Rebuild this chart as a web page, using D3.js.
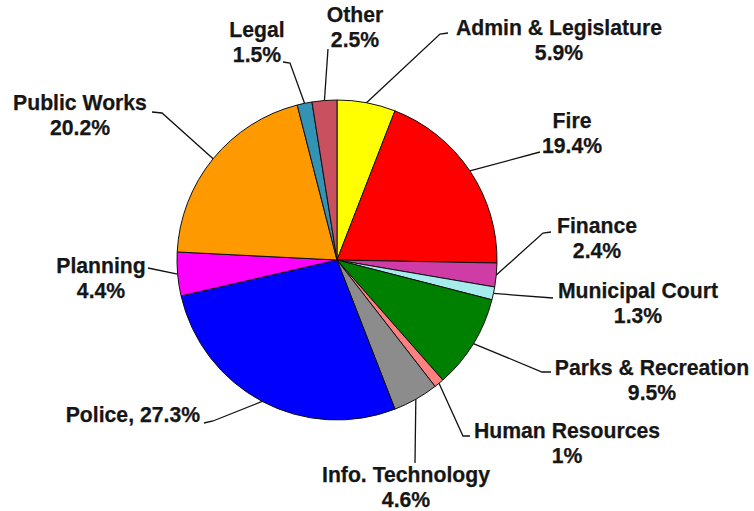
<!DOCTYPE html>
<html>
<head>
<meta charset="utf-8">
<script src="https://cdn.jsdelivr.net/npm/d3@7"></script>
<style>
  html, body { margin: 0; padding: 0; background: #ffffff; }
  svg { display: block; }
  text { font-family: "Liberation Sans", Arial, sans-serif; font-weight: bold; fill: #161616; stroke: #161616; stroke-width: 0.25; }
</style>
</head>
<body>
<svg id="chart" width="754" height="511"></svg>
<script>
// Departments, clockwise from 12 o'clock
const departments = ["Admin & Legislature", "Fire", "Finance", "Municipal Court",
  "Parks & Recreation", "Human Resources", "Info. Technology", "Police",
  "Planning", "Public Works", "Legal", "Other"];
const shares = [5.9, 19.4, 2.4, 1.3, 9.5, 1, 4.6, 27.3, 4.4, 20.2, 1.5, 2.5];
const valueLabels = ["5.9%", "19.4%", "2.4%", "1.3%", "9.5%", "1%", "4.6%", "27.3%",
  "4.4%", "20.2%", "1.5%", "2.5%"];
const sliceColors = ["#ffff00", "#ff0000", "#d03ca6", "#a6ecec", "#008000", "#ff8080",
  "#8c8c8c", "#0000ff", "#ff00ff", "#ff9900", "#3393b4", "#c9505f"];

// Label placement: text centre x, first baseline y, and leader bend points
const labelLayout = {
  "Admin & Legislature": { x: 559, y: 35, pts: [[440, 34], [448, 33]] },
  "Fire":                { x: 572, y: 128, pts: [[540, 152]] },
  "Finance":             { x: 597, y: 233, pts: [[543, 233], [551, 232]] },
  "Municipal Court":     { x: 638, y: 298, pts: [[553, 298]] },
  "Parks & Recreation":  { x: 652, y: 375, pts: [[542, 372], [551, 372]] },
  "Human Resources":     { x: 567, y: 438, pts: [[463, 436], [470, 436]] },
  "Info. Technology":    { x: 406, y: 482, pts: [[415, 463]] },
  "Police":              { x: 200, y: 422, pts: [[213, 421], [204, 423]], inline: true },
  "Planning":            { x: 101, y: 273, pts: [[148, 268]] },
  "Public Works":        { x: 80,  y: 110, pts: [[162, 113], [152, 112]] },
  "Legal":               { x: 257, y: 37, pts: [[290, 63], [283, 62]] },
  "Other":               { x: 355, y: 22, pts: [[328, 49]] }
};

const cx = 337, cy = 260, radius = 160, lineGap = 25;

const data = departments.map((name, i) => ({ name, value: shares[i], label: valueLabels[i], color: sliceColors[i] }));

const svg = d3.select("#chart");
const g = svg.append("g").attr("transform", `translate(${cx},${cy})`);

const pie = d3.pie().value(d => d.value).sort(null);
const arc = d3.arc().innerRadius(0).outerRadius(radius);
const arcs = pie(data);

g.selectAll("path.slice")
  .data(arcs)
  .join("path")
  .attr("class", "slice")
  .attr("d", arc)
  .attr("fill", d => d.data.color)
  .attr("stroke", "#111")
  .attr("stroke-width", 1);

// Leader lines from each slice's outer mid-point
const line = d3.line();
svg.selectAll("path.leader")
  .data(arcs)
  .join("path")
  .attr("class", "leader")
  .attr("fill", "none")
  .attr("stroke", "#111")
  .attr("stroke-width", 1.3)
  .attr("d", d => {
    const a = (d.startAngle + d.endAngle) / 2;
    const start = [cx + radius * Math.sin(a), cy - radius * Math.cos(a)];
    return line([start, ...labelLayout[d.data.name].pts]);
  });

// Labels
const labels = svg.selectAll("text.lbl")
  .data(arcs)
  .join("text")
  .attr("class", "lbl")
  .attr("font-size", 21.2)
  .attr("text-anchor", d => labelLayout[d.data.name].inline ? "end" : "middle")
  .attr("x", d => labelLayout[d.data.name].x)
  .attr("y", d => labelLayout[d.data.name].y);

labels.each(function(d) {
  const t = d3.select(this);
  const lay = labelLayout[d.data.name];
  if (lay.inline) {
    t.text(`${d.data.name}, ${d.data.label}`);
  } else {
    t.append("tspan").attr("x", lay.x).attr("dy", 0).text(d.data.name);
    t.append("tspan").attr("x", lay.x).attr("dy", lineGap).text(d.data.label);
  }
});
</script>
</body>
</html>
